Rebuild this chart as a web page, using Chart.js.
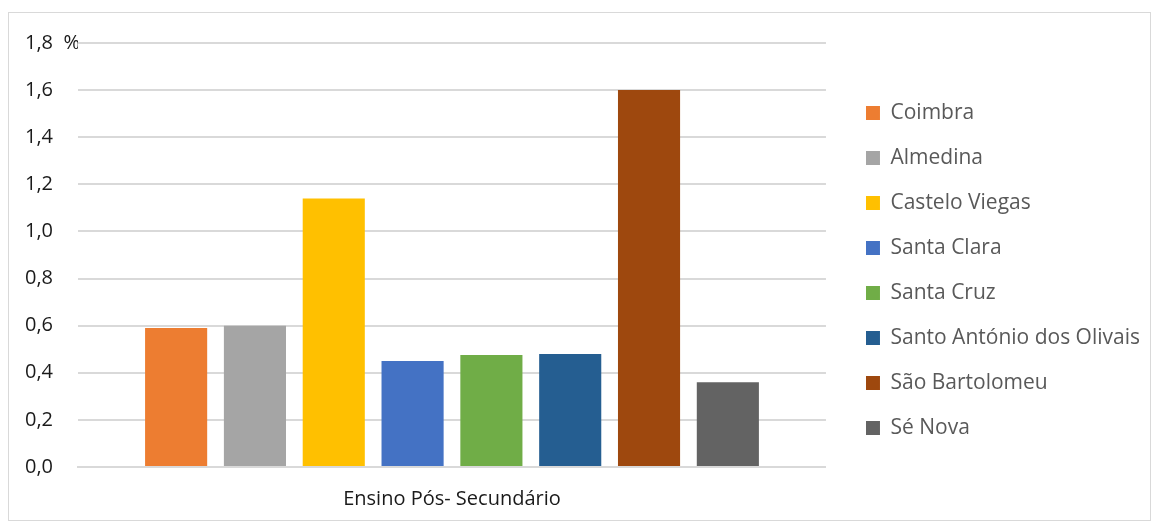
<!DOCTYPE html>
<html>
<head>
<meta charset="utf-8">
<script src="https://cdn.jsdelivr.net/npm/chart.js@4"></script>
<style>
    html, body { margin: 0; padding: 0; background: #ffffff; }
    #frame {
        position: absolute;
        left: 8px;
        top: 12px;
        width: 1141px;
        height: 507px;
        border: 1px solid #d9d9d9;
    }
    canvas { display: block; }
</style>
</head>
<body>
<div id="frame"><canvas id="chart" width="1141" height="507"></canvas></div>
<script>
const categories = ['Ensino Pós- Secundário'];
const parishes = ['Coimbra', 'Almedina', 'Castelo Viegas', 'Santa Clara', 'Santa Cruz',
    'Santo António dos Olivais', 'São Bartolomeu', 'Sé Nova'];
const values = [0.59, 0.60, 1.14, 0.45, 0.475, 0.48, 1.60, 0.36];
const colors = ['#ED7D31', '#A5A5A5', '#FFC000', '#4472C4', '#70AD47', '#255E91', '#9E480E', '#636363'];
const yTicks = [0, 0.2, 0.4, 0.6, 0.8, 1.0, 1.2, 1.4, 1.6, 1.8];

const font = "'Open Sans', 'DejaVu Sans', sans-serif";

const datasets = parishes.map((name, i) => ({
    label: name,
    data: [values[i]],
    backgroundColor: colors[i],
    borderWidth: 0,
    categoryPercentage: 0.843,
    barPercentage: 0.788
}));

const ctx = document.getElementById('chart').getContext('2d');

new Chart(ctx, {
    type: 'bar',
    data: {
        labels: categories,
        datasets: datasets
    },
    options: {
        responsive: false,
        animation: false,
        layout: {
            padding: { left: 16, right: 0, top: 30, bottom: 22 }
        },
        plugins: {
            tooltip: { enabled: false },
            legend: {
                position: 'right',
                maxWidth: 400,
                labels: {
                    font: { family: font, size: 21 },
                    color: '#595959',
                    boxWidth: 14,
                    boxHeight: 14,
                    padding: 24
                }
            }
        },
        scales: {
            x: {
                grid: { display: false },
                border: { color: '#d9d9d9', width: 2 },
                ticks: {
                    font: { family: font, size: 20 },
                    color: '#1a1a1a',
                    padding: 12
                },
                afterFit: scale => {
                    scale.height = 31;
                    // the label hangs below the axis box, so do not clip it
                    scale._computeLabelArea = () => null;
                }
            },
            y: {
                min: 0,
                max: 1.8,
                grid: { color: '#d9d9d9', lineWidth: 2, drawTicks: false },
                border: { display: false },
                afterBuildTicks: scale => {
                    scale.ticks = yTicks.map(v => ({ value: v }));
                },
                ticks: {
                    font: { family: font, size: 20 },
                    color: '#1a1a1a',
                    crossAlign: 'far',
                    padding: 0,
                    callback: v => v.toFixed(1).replace('.', ',') + (Math.abs(v - 1.8) < 1e-6 ? '  %' : '')
                },
                afterFit: scale => { scale.width = 53; }
            },
            y2: {
                position: 'right',
                grid: { display: false },
                border: { display: false },
                ticks: { display: false },
                afterFit: scale => { scale.width = 16; }
            }
        }
    }
});
</script>
</body>
</html>
